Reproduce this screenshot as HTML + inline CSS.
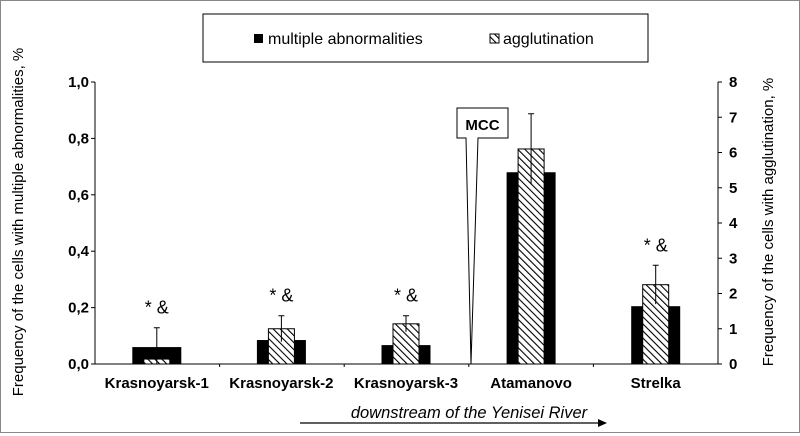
<!DOCTYPE html>
<html><head><meta charset="utf-8"><style>
body{margin:0;background:#fff}
svg{display:block;font-family:"Liberation Sans",Arial,sans-serif}
</style></head><body>
<svg width="800" height="436" viewBox="0 0 800 436">
<defs>
<pattern id="hatch" patternUnits="userSpaceOnUse" width="5" height="5" patternTransform="rotate(-45)">
<rect width="5" height="5" fill="#fff"/><line x1="0" y1="0" x2="0" y2="5" stroke="#000" stroke-width="2.2"/>
</pattern>
</defs>
<rect x="0.5" y="0.5" width="799" height="432" fill="#fff" stroke="#888"/>
<g id="legend">
<rect x="203" y="14" width="445" height="48" fill="#fff" stroke="#000"/>
<rect x="254" y="34" width="9" height="9" fill="#000"/>
<text x="268" y="44" font-size="16">multiple abnormalities</text>
<rect x="490" y="34" width="9" height="9" fill="url(#hatch)" stroke="#000"/>
<text x="503" y="44" font-size="16">agglutination</text>
</g>
<g id="plot"></g>
<text transform="translate(23,222) rotate(-90)" text-anchor="middle" font-size="15">Frequency of the cells with multiple  abnormalities, %</text>
<text transform="translate(773,222) rotate(-90)" text-anchor="middle" font-size="15">Frequency of  the cells  with agglutination, %</text>
<g>
<path d="M457,108 H508 V138 H478 L471,364 L466,138 H457 Z" fill="#fff" stroke="#000"/>
<text x="482.5" y="130" text-anchor="middle" font-size="15" font-weight="bold">MCC</text>
</g>
<text x="469" y="418" text-anchor="middle" font-size="16.5" font-style="italic">downstream of the Yenisei River</text>
<line x1="300" y1="423" x2="600" y2="423" stroke="#000" stroke-width="1.3"/>
<path d="M598,419 L607,423 L598,427 Z" fill="#000"/>
</svg>
<script>
const categories=["Krasnoyarsk-1","Krasnoyarsk-2","Krasnoyarsk-3","Atamanovo","Strelka"];
const multipleVals=[0.06,0.085,0.067,0.68,0.205];
const agglVals=[0.14,1.0,1.14,6.1,2.25];
const agglErr=[0.89,0.37,0.23,1.0,0.55];
const marks=["* &","* &","* &","","* &"];
const leftTicks=["0,0","0,2","0,4","0,6","0,8","1,0"];
const rightTicks=["0","1","2","3","4","5","6","7","8"];
const NS="http://www.w3.org/2000/svg";
const g=document.getElementById('plot');
const X0=95,X1=718,Y0=364,Y1=82;
const yL=v=>Y0-v/1.0*(Y0-Y1);
const yR=v=>Y0-v/8*(Y0-Y1);
const band=(X1-X0)/categories.length;
const xC=i=>X0+band*(i+0.5)+(i<3?-0.5:0);
function el(t,a){const e=document.createElementNS(NS,t);for(const k in a)e.setAttribute(k,a[k]);g.appendChild(e);return e;}
categories.forEach((c,i)=>{
 const cx=xC(i);
 const b=el('rect',{x:cx-24.5,y:yL(multipleVals[i]),width:49,height:Y0-yL(multipleVals[i]),fill:'#000'});
 
 
 const h=el('rect',{x:cx-13,y:yR(agglVals[i]),width:26,height:Y0-yR(agglVals[i]),fill:'url(#hatch)',stroke:'#000','stroke-width':1});
 
 
 const top=yR(agglVals[i]+agglErr[i]),bot=yR(Math.max(0,agglVals[i]-agglErr[i]));
 const e=el('path',{d:`M${cx},${bot} V${top} M${cx-3},${top} H${cx+3}`,stroke:'#000','stroke-width':1,fill:'none'});
 
 
 if(marks[i]){const m=el('text',{x:cx,y:top-14,'text-anchor':'middle','font-size':18});m.textContent=marks[i];
 
 }
 const t=el('text',{x:cx,y:388,'text-anchor':'middle','font-size':15,'font-weight':'bold'});t.textContent=c;
 
 
 if(i>0){const tk=el('line',{x1:X0+band*i,y1:Y0,x2:X0+band*i,y2:Y0+3,stroke:'#000'});
 
 }
});
const ax=el('path',{d:`M${X0},${Y1} V${Y0} H${X1} M${X1},${Y1} V${Y0}`,stroke:'#000',fill:'none','stroke-width':1});


leftTicks.forEach((l,i)=>{const y=Y0-i*(Y0-Y1)/(leftTicks.length-1);
 const tk=el('line',{x1:X0-4,y1:y,x2:X0,y2:y,stroke:'#000'});
 
 
 const t=el('text',{x:X0-6,y:y+5,'text-anchor':'end','font-size':15,'font-weight':'bold'});t.textContent=l;
 
 });
rightTicks.forEach((l,i)=>{const y=yR(i);
 const tk=el('line',{x1:X1,y1:y,x2:X1+4,y2:y,stroke:'#000'});
 
 
 const t=el('text',{x:X1+11,y:y+5,'font-size':15,'font-weight':'bold'});t.textContent=l;
 
 });
</script>
</body></html>
